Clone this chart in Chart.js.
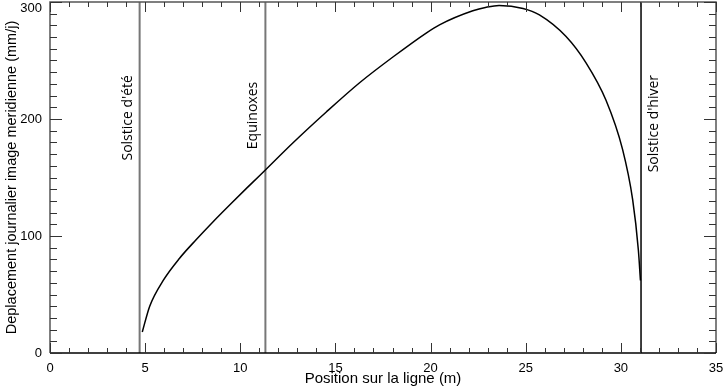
<!DOCTYPE html>
<html>
<head>
<meta charset="utf-8">
<script src="https://cdn.jsdelivr.net/npm/chart.js@4"></script>
<style>
  html, body { margin: 0; padding: 0; background: #fff; }
  #wrap { width: 725px; height: 392px; }
</style>
</head>
<body>
<div id="wrap"><canvas id="chart"></canvas></div>
<script>
// position on the meridian line (m) and daily displacement (mm/j)
const posX = [4.85, 5.24, 5.95, 6.81, 7.69, 8.56, 9.44, 10.31, 11.01, 12.76, 14.52, 16.27,
  18.02, 19.77, 20.47, 22.22, 22.93, 23.6, 24.86, 25.72, 27.12, 28.17, 29.22, 30.09, 30.62, 30.92, 31.03];
const deplY = [18, 40, 62, 81, 97, 112, 126.5, 140.5, 151.5, 179.5, 206, 231,
  253, 273.5, 280.5, 292.5, 295.5, 297, 294.5, 289, 270.5, 248, 216, 174, 131, 88, 62];

// vertical markers
const eventNames = ["Solstice d'été", "Equinoxes", "Solstice d'hiver"];
const eventX = [4.71, 11.32, 31.06];
const eventColors = ["#777", "#777", "#000"];

const xTicks = [0, 5, 10, 15, 20, 25, 30, 35];
const yTicks = [0, 100, 200, 300];

const FONT = "'Liberation Sans', sans-serif";

const curve = posX.map((x, i) => ({ x, y: deplY[i] }));

const datasets = [{
  data: curve,
  borderColor: "#000",
  borderWidth: 1.5,
  pointRadius: 0,
  cubicInterpolationMode: "monotone"
}];
eventX.forEach((ex, i) => {
  datasets.push({
    data: [{ x: ex, y: yTicks[0] }, { x: ex, y: yTicks.at(-1) }],
    borderColor: eventColors[i],
    borderWidth: i < 2 ? 2 : 1.5,
    pointRadius: 0
  });
});

// box + inward ticks on all four sides, and marker labels
const framePlugin = {
  id: "frame",
  afterDatasetsDraw(chart) {
    const { ctx, chartArea: a, scales: { x, y } } = chart;
    ctx.save();
    ctx.lineWidth = 1.5;
    ctx.strokeStyle = "#555";
    ctx.beginPath();
    ctx.moveTo(a.left, a.bottom); ctx.lineTo(a.left, a.top);
    ctx.lineTo(a.right, a.top); ctx.lineTo(a.right, a.bottom);
    ctx.stroke();
    ctx.strokeStyle = "#000";
    ctx.beginPath();
    ctx.moveTo(a.left, a.bottom); ctx.lineTo(a.right, a.bottom);
    ctx.stroke();

    ctx.lineWidth = 1;
    ctx.strokeStyle = "#333";
    ctx.beginPath();
    for (let v = 0; v <= 35; v++) {
      const px = Math.round(x.getPixelForValue(v)) + 0.5;
      const len = v % 5 === 0 ? 10 : 5;
      ctx.moveTo(px, a.bottom); ctx.lineTo(px, a.bottom - len);
      ctx.moveTo(px, a.top); ctx.lineTo(px, a.top + len);
    }
    for (let v = 0; v <= 300; v += 10) {
      const py = Math.round(y.getPixelForValue(v)) + 0.5;
      const len = v % 100 === 0 ? 12 : 7;
      ctx.moveTo(a.left, py); ctx.lineTo(a.left + len, py);
      ctx.moveTo(a.right, py); ctx.lineTo(a.right - len, py);
    }
    ctx.stroke();

    // marker labels, rotated
    ctx.fillStyle = "#000";
    ctx.font = "14px 'Open Sans', sans-serif";
    ctx.textAlign = "center";
    ctx.textBaseline = "middle";
    const offs = [-12, -12, 13];
    const ly = [201, 203, 196];
    eventNames.forEach((name, i) => {
      const px = x.getPixelForValue(eventX[i]) + offs[i];
      const py = y.getPixelForValue(ly[i]);
      ctx.save();
      ctx.translate(px, py);
      ctx.rotate(-Math.PI / 2);
      ctx.fillText(name, 0, 0);
      ctx.restore();
    });
    ctx.restore();
  }
};

new Chart(document.getElementById("chart"), {
  type: "line",
  data: { datasets },
  options: {
    responsive: true,
    maintainAspectRatio: false,
    animation: false,
    layout: { padding: { top: 2, right: 9, left: 0, bottom: 0 } },
    plugins: { legend: { display: false }, tooltip: { enabled: false } },
    scales: {
      x: {
        type: "linear",
        min: 0, max: 35,
        grid: { display: false, drawTicks: false },
        border: { display: false },
        ticks: {
          stepSize: 5,
          padding: 8,
          color: "#000",
          font: { family: FONT, size: 13 },
          maxRotation: 0,
          callback: v => xTicks.includes(v) ? String(v) : ""
        },
        title: {
          display: true,
          text: "Position sur la ligne (m)",
          color: "#000",
          font: { family: FONT, size: 15 },
          padding: { top: 4, bottom: 4 }
        },
        afterFit: s => { s.height = 39; s.paddingLeft = 0; s.paddingRight = 0; }
      },
      y: {
        min: 0, max: 300,
        grid: { display: false, drawTicks: false },
        border: { display: false },
        ticks: {
          stepSize: 100,
          padding: 8,
          color: "#000",
          font: { family: FONT, size: 13, lineHeight: 1 },
          // top label sits just inside the frame, as in the original
          callback: v => v === yTicks.at(-1) ? ["", String(v)] : (yTicks.includes(v) ? String(v) : "")
        },
        title: {
          display: true,
          text: "Deplacement journalier image meridienne (mm/j)",
          color: "#000",
          font: { family: FONT, size: 14.5 },
          padding: { top: 3, bottom: 4 }
        },
        afterFit: s => { s.width = 50; s.paddingTop = 0; s.paddingBottom = 0; }
      }
    }
  },
  plugins: [framePlugin]
});
</script>
</body>
</html>
